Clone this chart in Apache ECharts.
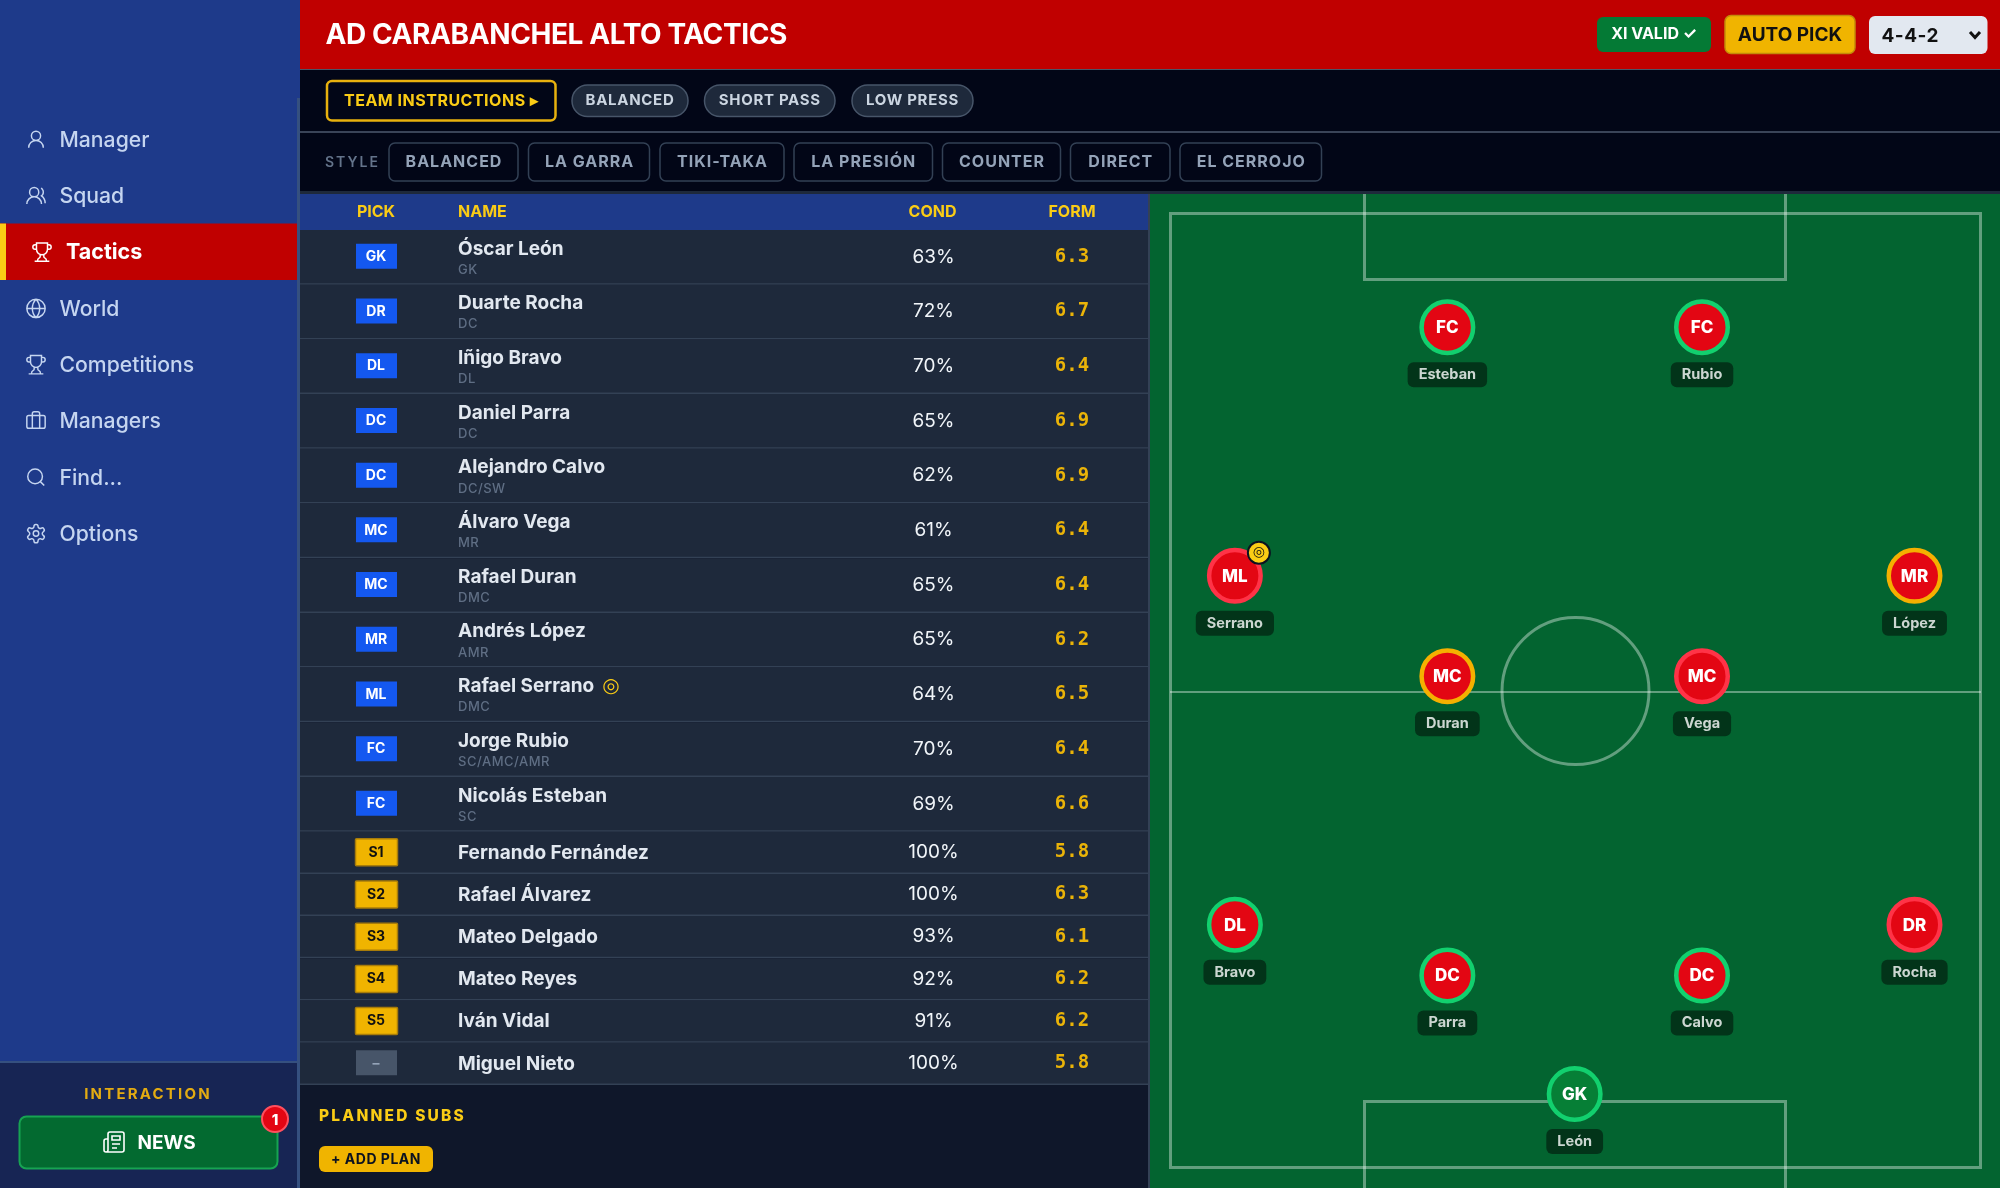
<!DOCTYPE html>
<html><head><meta charset="utf-8">
<style>html,body{margin:0;padding:0;background:#020617}#c{width:2000px;height:1188px}</style>
<script src="https://cdn.jsdelivr.net/npm/echarts@6/dist/echarts.min.js"></script>
</head><body><div id="c"></div>
<script>
// ---------- data ----------
const clubTitle = 'AD CARABANCHEL ALTO TACTICS';
const navItems = ['Manager','Squad','Tactics','World','Competitions','Managers','Find...','Options'];
const instructionTags = ['BALANCED','SHORT PASS','LOW PRESS'];
const styleTags = ['BALANCED','LA GARRA','TIKI-TAKA','LA PRESIÓN','COUNTER','DIRECT','EL CERROJO'];
const columnHeads = ['PICK','NAME','COND','FORM'];
const rowPicks = ['GK','DR','DL','DC','DC','MC','MC','MR','ML','FC','FC','S1','S2','S3','S4','S5','–'];
const rowNames = ['Óscar León','Duarte Rocha','Iñigo Bravo','Daniel Parra','Alejandro Calvo','Álvaro Vega','Rafael Duran','Andrés López','Rafael Serrano','Jorge Rubio','Nicolás Esteban','Fernando Fernández','Rafael Álvarez','Mateo Delgado','Mateo Reyes','Iván Vidal','Miguel Nieto'];
const rowNatural = ['GK','DC','DL','DC','DC/SW','MR','DMC','AMR','DMC','SC/AMC/AMR','SC','','','','','',''];
const rowCond = [63,72,70,65,62,61,65,65,64,70,69,100,100,93,92,91,100];
const rowForm = [6.3,6.7,6.4,6.9,6.9,6.4,6.4,6.2,6.5,6.4,6.6,5.8,6.3,6.1,6.2,6.2,5.8];
const captainName = 'Rafael Serrano';
const pitchPos = ['GK','DR','DL','DC','DC','MC','MC','MR','ML','FC','FC'];
const pitchNames = ['León','Rocha','Bravo','Parra','Calvo','Vega','Duran','López','Serrano','Rubio','Esteban'];
const pitchX = [49.9,91.8,8,34.2,65.6,65.6,34.2,91.8,8,65.6,34.2];
const pitchY = [92.2,74.5,74.5,79.8,79.8,48.5,48.5,38,38,12,12];
const pitchRing = ['good','low','good','good','good','low','mid','mid','low','good','good'];
// ---------- letter spacing through the font string ----------
const P = CanvasRenderingContext2D.prototype, F = P.fillText;
P.fillText = function(t,x,y,m){ const r=/ls(-?\d+)/.exec(this.font); this.letterSpacing = r ? (r[1]/10)+'px' : '0px'; return m===undefined?F.call(this,t,x,y):F.call(this,t,x,y,m); };
// ---------- helpers ----------
const C = {side:'#1e3a8a',sideEdge:'#35507f',sideLow:'#172554',red:'#c00000',dark:'#020617',row:'#1e293b',line:'#334155',amber:'#f0b400',yellow:'#facc15',blue:'#1458f0',pitch:'#036430',white:'#ffffff'};
const font=(w,s,ls,fam)=>`${w} ${s}px ${fam||'Inter'}`+(ls?`, "ls${ls}"`:'');
const box=(x,y,x2,y2,fill,o={})=>({type:'rect',shape:{x,y,width:x2-x,height:y2-y,r:o.r||0},style:{fill,stroke:o.stroke,lineWidth:o.lw||0},z:o.z||1});
const txt=(text,x,y,f,fill,align='left',z=3)=>({type:'text',style:{text,x,y:y+1,font:f,fill,align,verticalAlign:'middle'},z});
const circ=(c,d,r)=>`M${c-r} ${d}a${r} ${r} 0 1 0 ${2*r} 0a${r} ${r} 0 1 0 ${-2*r} 0z`;
const icons={
 user:circ(12,8,5)+'M20 21a8 8 0 0 0-16 0',
 users:circ(10,8,5)+'M18 21a8 8 0 0 0-16 0M22 20c0-3.37-2-6.5-4-8a5 5 0 0 0-.45-8.3',
 trophy:'M6 9H4.5a2.5 2.5 0 0 1 0-5H6M18 9h1.5a2.5 2.5 0 0 0 0-5H18M4 22h16M10 14.66V17c0 .55-.47.98-.97 1.21C7.85 18.75 7 20.24 7 22M14 14.66V17c0 .55.47.98.97 1.21C16.15 18.75 17 20.24 17 22M18 2H6v7a6 6 0 0 0 12 0V2Z',
 globe:circ(12,12,10)+'M12 2a14.5 14.5 0 0 0 0 20 14.5 14.5 0 0 0 0-20M2 12h20',
 brief:'M16 20V4a2 2 0 0 0-2-2h-4a2 2 0 0 0-2 2v16M4 6h16a2 2 0 0 1 2 2v10a2 2 0 0 1-2 2H4a2 2 0 0 1-2-2V8a2 2 0 0 1 2-2z',
 search:circ(11,11,8)+'M21 21l-4.3-4.3',
 gear:'M12.22 2h-.44a2 2 0 0 0-2 2v.18a2 2 0 0 1-1 1.73l-.43.25a2 2 0 0 1-2 0l-.15-.08a2 2 0 0 0-2.73.73l-.22.38a2 2 0 0 0 .73 2.73l.15.1a2 2 0 0 1 1 1.72v.51a2 2 0 0 1-1 1.74l-.15.09a2 2 0 0 0-.73 2.73l.22.38a2 2 0 0 0 2.73.73l.15-.08a2 2 0 0 1 2 0l.43.25a2 2 0 0 1 1 1.73V20a2 2 0 0 0 2 2h.44a2 2 0 0 0 2-2v-.18a2 2 0 0 1 1-1.73l.43-.25a2 2 0 0 1 2 0l.15.08a2 2 0 0 0 2.73-.73l.22-.39a2 2 0 0 0-.73-2.73l-.15-.08a2 2 0 0 1-1-1.74v-.5a2 2 0 0 1 1-1.74l.15-.09a2 2 0 0 0 .73-2.73l-.22-.38a2 2 0 0 0-2.73-.73l-.15.08a2 2 0 0 1-2 0l-.43-.25a2 2 0 0 1-1-1.73V4a2 2 0 0 0-2-2z'+circ(12,12,3),
 news:'M4 22h16a2 2 0 0 0 2-2V4a2 2 0 0 0-2-2H8a2 2 0 0 0-2 2v16a2 2 0 0 1-2 2Zm0 0a2 2 0 0 1-2-2v-9c0-1.1.9-2 2-2h2M18 14h-8M15 18h-5M10 6h8v4h-8V6Z'
};
Object.keys(icons).forEach(k=>echarts.graphic.registerShape('ic_'+k,echarts.graphic.extendPath(icons[k],{})));
const icon=(k,cx,cy,s,stroke,lw=1.9)=>({type:'ic_'+k,x:cx-s/2,y:cy-s/2,scaleX:s/24,scaleY:s/24,style:{fill:'none',stroke,lineWidth:lw},z:3});
// ---------- page chrome ----------
const g=[];
g.push(box(0,0,300,1188,C.side,{z:0}));
g.push(box(297,98,300,1188,C.sideEdge,{z:1}));
g.push(box(300,0,2000,69,C.red));
g.push(box(300,69,2000,70,'#4b5568'));
g.push(box(300,131,2000,133,'#3a4458'));
g.push(box(300,191,2000,194,C.row));
g.push(box(300,194,1149,230,C.side));
g.push(box(300,1084,1148,1188,'#0f172a'));
g.push(box(0,1061,297,1188,C.sideLow));
g.push(box(0,1061,297,1063,'#35507f'));
const navIcons=['user','users','trophy','globe','trophy','brief','search','gear'];
g.push(box(0,223.5,297,280,C.red),box(0,223.5,6,280,C.yellow,{z:2}));
navItems.forEach((n,i)=>{const y=139.5+56.3*i, on=n==='Tactics';
  g.push(icon(navIcons[i],on?42:36,y,22,on?'#fff':'#c5d5f0',1.6));
  g.push(txt(n,on?66:59.5,on?y-.5:y,font(on?700:500,on?21.5:21.2),on?'#fff':'#c5d5f0'));});
g.push(txt('INTERACTION',148,1093,font(700,15,22),'#e3ab12','center'));
g.push(box(19.5,1116.5,277.5,1168.5,'#036a30',{r:7,stroke:'#17a352',lw:2}));
g.push(icon('news',114,1142,24,'#fff',1.6));
g.push(txt('NEWS',137.5,1142,font(700,19),'#fff'));
g.push({type:'circle',shape:{cx:275,cy:1119,r:13},style:{fill:'#e30613',stroke:'#ff4f5e',lineWidth:2},z:4});
g.push(txt('1',275,1119,font(800,15),'#fff','center',5));
g.push(txt('PLANNED SUBS',319,1115,font(800,15.5,22),C.yellow));
g.push(box(319,1146,433,1172,C.amber,{r:6}));
g.push(txt('+ ADD PLAN',376,1159,font(700,14,5),'#0b1220','center'));
// header
g.push(txt(clubTitle,325.5,34.5,font(700,28,-4),'#fff'));
g.push(box(1597,17,1711,52,'#047a35',{r:6}));
g.push(txt('XI VALID ✓',1654,33.5,font(700,16),'#fff','center'));
g.push(box(1725,15.5,1855,53.5,C.amber,{r:6,stroke:'#c48a08',lw:1.5}));
g.push(txt('AUTO PICK',1790,34.5,font(700,19),'#111','center'));
g.push(box(1869,16,1987.5,54,'#e2e8f0',{r:6}));
g.push(txt('4-4-2',1881.5,35.5,font(700,19,5),'#111'));
g.push({type:'polyline',shape:{points:[[1970,32],[1975,37.5],[1980,32]]},style:{stroke:'#111',lineWidth:3,fill:'none'},z:3});
// toolbars
g.push(box(327,81,555.5,120.5,C.dark,{r:5,stroke:'#e8b10e',lw:2.5}));
g.push(txt('TEAM INSTRUCTIONS ▸',344,100.5,font(700,16,5),C.yellow));
const pillX=[[572,688],[704.5,835],[852,973]];
instructionTags.forEach((t,i)=>{const [a,b]=pillX[i];
  g.push(box(a,85,b,116.5,C.row,{r:15.5,stroke:'#475569',lw:1.5}));
  g.push(txt(t,(a+b)/2,99.5,font(700,15,7),'#cbd5e1','center'));});
g.push(txt('STYLE',325,162,font(600,14,20),'#64748b'));
const styleX=[[389,518],[528.5,649.5],[660,784],[794,932.5],[942.5,1060.5],[1070.5,1170],[1180,1321.5]];
styleTags.forEach((t,i)=>{const [a,b]=styleX[i];
  g.push(box(a,143,b,181,C.dark,{r:6,stroke:'#334155',lw:1.5}));
  g.push(txt(t,(a+b)/2+.5,161.5,font(700,16,10),'#94a3b8','center'));});
// table heads
const colX=[376,458,932.5,1072], colA=['center','left','center','center'];
columnHeads.forEach((h,i)=>g.push(txt(h,colX[i],211.5,font(700,16),C.yellow,colA[i])));
// pitch
g.push(box(1148,194,1150,1188,'#334155'));
g.push(box(1150,194,2000,1188,C.pitch,{z:1}));
const ln='rgba(255,255,255,0.38)';
g.push(box(1170.5,213.5,1980.5,1167.5,'none',{stroke:ln,lw:3,z:2}));
g.push({type:'polyline',shape:{points:[[1364.5,194],[1364.5,279.5],[1785.5,279.5],[1785.5,194]]},style:{stroke:ln,lineWidth:3,fill:'none'},z:2});
g.push({type:'polyline',shape:{points:[[1364.5,1188],[1364.5,1101.5],[1785.5,1101.5],[1785.5,1188]]},style:{stroke:ln,lineWidth:3,fill:'none'},z:2});
g.push(box(1170,691,1981,693,ln,{z:2}));
g.push({type:'circle',shape:{cx:1575.5,cy:691,r:73.5},style:{fill:'none',stroke:ln,lineWidth:3},z:2});
// ---------- series ----------
const rowH=i=>i<11?54.7:42.2;
const rowTop=i=>{let t=0;for(let k=0;k<i;k++)t+=rowH(k);return t;};
const tableData=rowNames.map((n,i)=>({value:[0,rowTop(i)],i}));
const ringCol={good:'#12d06e',mid:'#f5b000',low:'#ff3347'};
const playerData=pitchNames.map((n,i)=>({value:[pitchX[i],pitchY[i]],name:n,pos:pitchPos[i],
  itemStyle:{color:pitchPos[i]==='GK'?'#067f36':'#e30613',borderColor:ringCol[pitchRing[i]],borderWidth:4.5,opacity:1}}));
const capIdx=pitchNames.findIndex(n=>captainName.endsWith(n));
const option={
  animation:false,backgroundColor:C.dark,
  graphic:{elements:g},
  grid:[{left:300,top:230,width:848,height:855},{left:1170,top:212.5,width:811,height:956}],
  xAxis:[{gridIndex:0,type:'value',min:0,max:848,show:false},{gridIndex:1,type:'value',min:0,max:100,show:false}],
  yAxis:[{gridIndex:0,type:'value',min:0,max:855,inverse:true,show:false},{gridIndex:1,type:'value',min:0,max:100,inverse:true,show:false}],
  series:[
   {type:'custom',xAxisIndex:0,yAxisIndex:0,data:tableData,z:5,silent:true,clip:false,
    renderItem(p,api){
      const i=p.dataIndex,[x0,y0]=api.coord([0,rowTop(i)]),h=rowH(i),cy=y0+h/2,k=rowPicks[i];
      const sub=k[0]==='S',dash=k==='–',ch=[];
      ch.push({type:'rect',shape:{x:x0,y:y0,width:848,height:h},style:{fill:C.row}});
      ch.push({type:'rect',shape:{x:x0,y:y0+h-1.5,width:848,height:1.5},style:{fill:C.line}});
      ch.push(sub?{type:'rect',shape:{x:355.5,y:cy-14,width:42,height:27,r:1},style:{fill:C.amber,stroke:'#a87c0a',lineWidth:1.5}}
                 :{type:'rect',shape:{x:356,y:cy-13.5,width:41,height:25},style:{fill:dash?'#475569':C.blue}});
      ch.push(txt(k,376,sub?cy-1.5:cy-1.5,font(700,14),sub?'#111':dash?'#94a3b8':'#fff','center'));
      const two=i<11;
      ch.push(txt(rowNames[i],458,two?cy-9.5:cy-1,font(700,19),'#e2e8f0'));
      if(two)ch.push(txt(rowNatural[i],458,cy+11.5,font(500,13,5),'#5f6e84'));
      if(rowNames[i]===captainName)ch.push(txt('◎',611,cy-9.5,font(700,20,0,'"DejaVu Sans"'),C.yellow,'center'));
      ch.push(txt(rowCond[i]+'%',933.5,cy-1.5,font(400,19),'#f1f5f9','center'));
      ch.push(txt(rowForm[i].toFixed(1),1072,cy-1.5,font(700,19,0,'"DejaVu Sans Mono"'),'#eab308','center'));
      return {type:'group',children:ch};
    }},
   {type:'scatter',xAxisIndex:1,yAxisIndex:1,data:playerData,symbol:'circle',symbolSize:51.5,z:6,silent:true,clip:false,
    label:{show:true,position:'inside',offset:[0,1],formatter:d=>d.data.pos,color:'#fff',fontFamily:'Inter',fontWeight:800,fontSize:17}},
   {type:'scatter',xAxisIndex:1,yAxisIndex:1,data:playerData.map(d=>({value:d.value,name:d.name})),symbol:'circle',symbolSize:1,z:7,silent:true,clip:false,
    itemStyle:{color:'transparent'},
    label:{show:true,position:'inside',offset:[0,47.5],formatter:d=>d.name,color:'#fff',fontFamily:'Inter',fontWeight:700,fontSize:14.5,
      backgroundColor:'#032814',borderRadius:6,padding:[5,11,5,11]}},
   {type:'scatter',xAxisIndex:1,yAxisIndex:1,data:[{value:[pitchX[capIdx],pitchY[capIdx]]}],symbol:'circle',symbolSize:22,symbolOffset:[24,-23],z:8,silent:true,clip:false,
    itemStyle:{color:C.yellow,borderColor:'#0b1220',borderWidth:2,opacity:1},
    label:{show:true,position:'inside',formatter:'◎',color:'#111',fontFamily:'DejaVu Sans',fontSize:14}}
  ]
};
echarts.init(document.getElementById('c'),null,{renderer:'canvas'}).setOption(option);
</script></body></html>
